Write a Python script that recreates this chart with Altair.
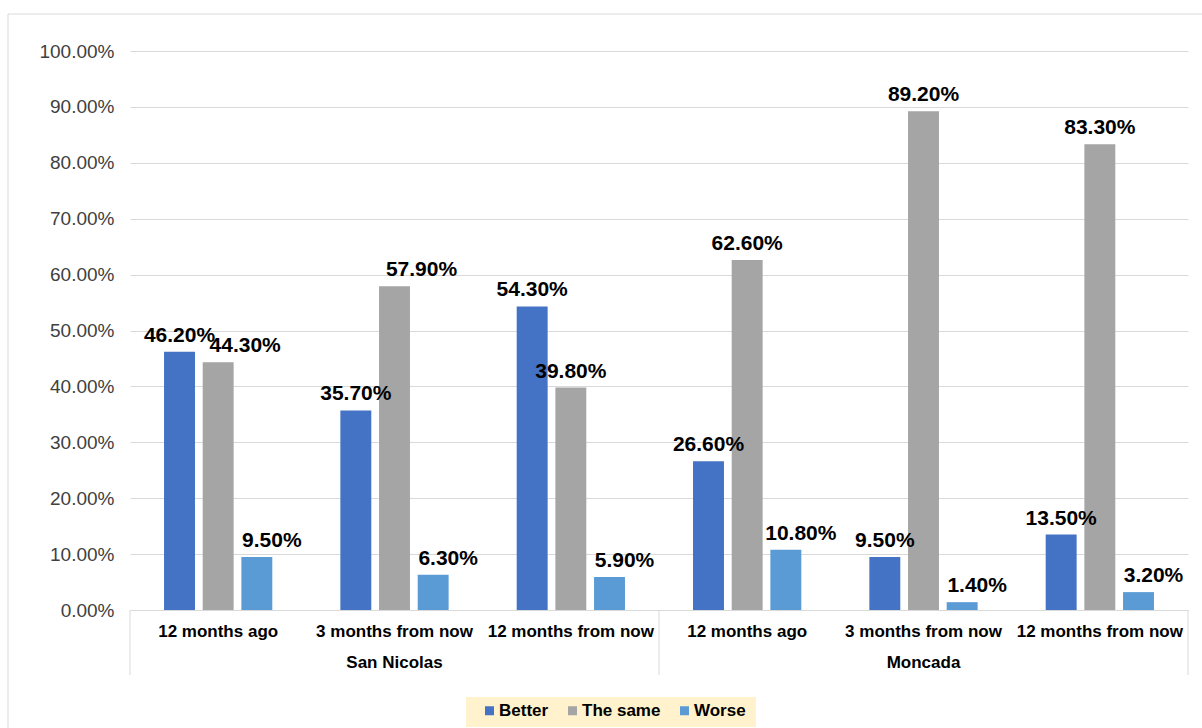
import altair as alt
import pandas as pd

# Survey answers by municipality and time horizon (percent of respondents)
groups = ["San Nicolas", "San Nicolas", "San Nicolas", "Moncada", "Moncada", "Moncada"]
periods = ["12 months ago", "3 months from now", "12 months from now",
           "12 months ago", "3 months from now", "12 months from now"]
series = ["Better", "The same", "Worse"]
better = [46.2, 35.7, 54.3, 26.6, 9.5, 13.5]
same = [44.3, 57.9, 39.8, 62.6, 89.2, 83.3]
worse = [9.5, 6.3, 5.9, 10.8, 1.4, 3.2]
colors = ["#4472C4", "#A5A5A5", "#5B9BD5"]
y_ticks = [0, 10, 20, 30, 40, 50, 60, 70, 80, 90, 100]

FONT = "Liberation Sans"
W, H = 1058, 559
PAD_L, PAD_T = 130, 51

keys = [f"{g} | {p}" for g, p in zip(groups, periods)]
rows = []
for i, k in enumerate(keys):
    for s, vals in zip(series, [better, same, worse]):
        rows.append({"key": k, "group": groups[i], "period": periods[i],
                     "series": s, "value": vals[i],
                     "label": f"{vals[i]:.2f}%"})
df = pd.DataFrame(rows)

x_enc = alt.X(
    "key:N",
    sort=keys,
    scale=alt.Scale(domain=keys, paddingInner=0.386, paddingOuter=0.193),
    axis=alt.Axis(
        title=None, labelAngle=0, ticks=False, domainColor="#D9D9D9",
        labelExpr="split(datum.value, ' | ')[1]", labelFont=FONT,
        labelFontSize=17, labelFontWeight="bold", labelColor="#000000",
        labelPadding=13, labelOverlap=False, labelLimit=400, grid=False,
    ),
)
y_enc = alt.Y(
    "value:Q",
    scale=alt.Scale(domain=[0, 100], nice=False),
    axis=alt.Axis(
        title=None, values=y_ticks, labelExpr="format(datum.value, '.2f') + '%'",
        grid=True, gridColor="#D9D9D9", domain=False, ticks=False,
        labelFont=FONT, labelFontSize=19, labelColor="#404040", labelPadding=16,
    ),
)
xoff = alt.XOffset("series:N", sort=series,
                   scale=alt.Scale(domain=series, paddingInner=0.2, paddingOuter=0))

one = pd.DataFrame({"k": [0]})

# outer chart frame
frame = alt.Chart(one).mark_rect(fill=None, stroke="#D9D9D9", strokeWidth=1).encode(
    x=alt.value(8 - PAD_L), x2=alt.value(1210 - PAD_L),
    y=alt.value(14 - PAD_T), y2=alt.value(740 - PAD_T),
)

# legend backdrop
legend_bg = alt.Chart(one).mark_rect(fill="#FFF2CC").encode(
    x=alt.value(466 - PAD_L), x2=alt.value(756 - PAD_L),
    y=alt.value(697 - PAD_T), y2=alt.value(727 - PAD_T),
)

bars = alt.Chart(df).mark_bar().encode(
    x=x_enc, y=y_enc, xOffset=xoff,
    color=alt.Color(
        "series:N", sort=series,
        scale=alt.Scale(domain=series, range=colors),
        legend=alt.Legend(
            title=None, orient="none", direction="horizontal",
            legendX=486 - PAD_L - 5, legendY=702 - PAD_T,
            symbolType="square", symbolSize=81, symbolStrokeWidth=0,
            labelFont=FONT, labelFontSize=17, labelFontWeight="bold",
            labelColor="#000000", labelOffset=1, columnPadding=15, padding=0,
        ),
    ),
)

text_style = dict(font=FONT, fontSize=21, fontWeight="bold", color="#000000",
                  baseline="alphabetic", dy=-10)

shifted_same = "datum.series == 'The same' && datum.group == 'San Nicolas' && datum.period != '12 months from now'"

labels_main = alt.Chart(df).transform_filter(
    f"datum.series != 'Worse' && !({shifted_same})"
).mark_text(**text_style).encode(x=x_enc, y=y_enc, xOffset=xoff, text="label:N")

labels_same = alt.Chart(df).transform_filter(shifted_same).mark_text(
    dx=27, **text_style
).encode(x=x_enc, y=y_enc, xOffset=xoff, text="label:N")

labels_worse = alt.Chart(df).transform_filter("datum.series == 'Worse'").mark_text(
    dx=15, **text_style
).encode(x=x_enc, y=y_enc, xOffset=xoff, text="label:N")

# group separators under the category axis
seps = [
    alt.Chart(one).mark_rule(color="#D9D9D9", strokeWidth=1).encode(
        x=alt.value(px), y=alt.value(H), y2=alt.value(H + 65)
    )
    for px in (0, W / 2, W)
]

group_df = pd.DataFrame({"key": [keys[1], keys[4]], "group": [groups[1], groups[4]]})
group_labels = alt.Chart(group_df).mark_text(
    font=FONT, fontSize=17, fontWeight="bold", color="#000000", baseline="middle"
).encode(x=x_enc, y=alt.value(663 - PAD_T), text="group:N")

chart = alt.layer(
    frame, legend_bg, bars, labels_main, labels_same, labels_worse, *seps, group_labels
).properties(
    width=W, height=H,
    autosize=alt.AutoSizeParams(type="none"),
    padding={"left": PAD_L, "top": PAD_T, "right": 1202 - PAD_L - W, "bottom": 728 - PAD_T - H},
    background="#FFFFFF",
).configure_view(stroke=None)

chart.save("out.html", embed_options={"renderer": "svg", "actions": False})
